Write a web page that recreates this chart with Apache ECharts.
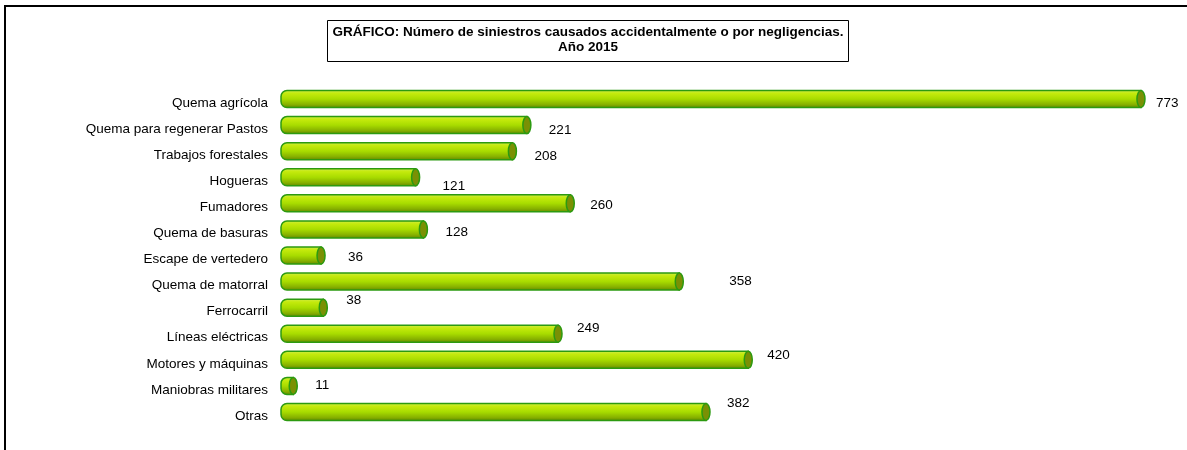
<!DOCTYPE html>
<html>
<head>
<meta charset="utf-8">
<script src="https://cdn.jsdelivr.net/npm/echarts@6/dist/echarts.min.js"></script>
<style>
  html, body { margin: 0; padding: 0; background: #fff; }
  #chart { width: 1187px; height: 450px; }
</style>
</head>
<body>
<div id="chart"></div>
<script>
// categories top to bottom
const causes = [
  'Quema agrícola',
  'Quema para regenerar Pastos',
  'Trabajos forestales',
  'Hogueras',
  'Fumadores',
  'Quema de basuras',
  'Escape de vertedero',
  'Quema de matorral',
  'Ferrocarril',
  'Líneas eléctricas',
  'Motores y máquinas',
  'Maniobras militares',
  'Otras'
]
const fires = [773, 221, 208, 121, 260, 128, 36, 358, 38, 249, 420, 11, 382]

// hand-placed data labels in the original (dx from bar end, dy from bar centre)
const labelNudge = [
  [11, 4], [18, 5], [18, 5], [23, 9], [16, 2], [18, 3], [23, 2],
  [46, 0], [19, -7], [15, -5], [15, -5], [18, -1], [17, -9]
]

const BAR_H = 17
const CAP_RX = 4
const FONT = '"Liberation Sans", Arial, sans-serif'
const FS = 13.5

const chart = echarts.init(document.getElementById('chart'))

function renderCylinder(params, api) {
  const idx = api.value(1)
  const start = api.coord([0, idx])
  const end = api.coord([api.value(0), idx])
  const y = start[1]
  const x0 = start[0]
  const x1 = end[0]
  const nudge = labelNudge[params.dataIndex]
  return {
    type: 'group',
    children: [
      {
        type: 'rect',
        shape: { x: x0, y: y - BAR_H / 2, width: x1 - x0, height: BAR_H, r: [6, 0, 0, 6] },
        style: {
          fill: new echarts.graphic.LinearGradient(0, 0, 0, 1, [
            { offset: 0, color: '#d2ec50' },
            { offset: 0.2, color: '#c4ea0c' },
            { offset: 0.5, color: '#a8dc00' },
            { offset: 0.8, color: '#86b000' },
            { offset: 1, color: '#5f8400' }
          ]),
          stroke: '#2c9a10',
          lineWidth: 1.5
        }
      },
      {
        type: 'ellipse',
        shape: { cx: x1, cy: y, rx: CAP_RX, ry: BAR_H / 2 },
        style: { fill: '#7a9004', stroke: '#2c9a10', lineWidth: 1.5 }
      },
      {
        type: 'text',
        style: {
          x: x1 + CAP_RX + nudge[0],
          y: y + nudge[1],
          text: String(api.value(0)),
          fill: '#000',
          font: FS + 'px ' + FONT,
          verticalAlign: 'middle',
          align: 'left'
        }
      }
    ]
  }
}

chart.setOption({
  animation: false,
  backgroundColor: '#fff',
  textStyle: { fontFamily: FONT },
  graphic: [
    {
      type: 'rect',
      shape: { x: 5, y: 6, width: 1190, height: 460 },
      style: { fill: 'none', stroke: '#000', lineWidth: 2 },
      silent: true
    },
    {
      type: 'rect',
      shape: { x: 327.5, y: 20.5, width: 521, height: 41 },
      style: { fill: '#fff', stroke: '#000', lineWidth: 1 },
      silent: true
    },
    {
      type: 'text',
      x: 588,
      y: 40,
      style: {
        text: 'GRÁFICO: Número de siniestros causados accidentalmente o por negligencias.\nAño 2015',
        font: 'bold ' + FS + 'px ' + FONT,
        fill: '#000',
        align: 'center',
        verticalAlign: 'middle',
        lineHeight: 15
      },
      silent: true
    }
  ],
  grid: { left: 281, top: 86, height: 339, width: 890 },
  xAxis: {
    type: 'value',
    min: 0,
    max: 800,
    show: false
  },
  yAxis: {
    type: 'category',
    data: causes,
    inverse: true,
    axisLine: { show: false },
    axisTick: { show: false },
    axisLabel: { color: '#000', fontSize: FS, margin: 13, verticalAlign: 'top', lineHeight: 8 }
  },
  series: [
    {
      type: 'custom',
      renderItem: renderCylinder,
      encode: { x: 0, y: 1 },
      data: fires.map((v, i) => [v, i])
    }
  ]
})
</script>
</body>
</html>
